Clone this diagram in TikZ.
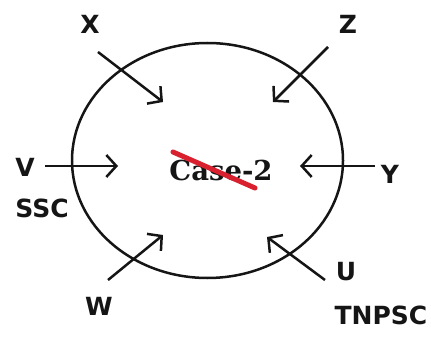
\documentclass[tikz,border=0pt]{standalone}
\usepackage{fontspec}
\setmainfont{DejaVu Sans}
\newfontfamily\casefont{DejaVu Serif}
\usetikzlibrary{arrows.meta,shapes.geometric}
\definecolor{strike}{HTML}{D8202E}
\definecolor{ink}{HTML}{151515}
\tikzset{
  lbl/.style={inner sep=0pt, text=ink, font=\fontsize{25}{25}\selectfont\bfseries},
  arr/.style={draw=ink, line width=2.5pt, -{Straight Barb[length=10pt,width=22pt,line width=2.5pt]}},
}
\begin{document}
\begin{tikzpicture}[x=1pt,y=-1pt]
\useasboundingbox (0,0) rectangle (431,339);
\node[ellipse, draw=ink, line width=2.5pt, minimum width=271pt, minimum height=235pt, inner sep=0pt] (ring) at (207.5,160.5) {};
\node[inner sep=0pt, text=ink, font=\casefont\bfseries\fontsize{27.5}{27.5}\selectfont] (case) at (221,170) {Case-2};
\coordinate (s1) at (173,152);
\coordinate (s2) at (255,188);
\draw[strike, line width=5pt, line cap=round] (s1) -- (s2);
% labels
\node[lbl] (X) at (90,24) {X};
\node[lbl] (Z) at (348,24) {Z};
\node[lbl] (V) at (25,167) {V};
\node[lbl] (Y) at (390,174) {Y};
\node[lbl] (SSC) at (42,208) {SSC};
\node[lbl] (W) at (99,306) {W};
\node[lbl] (U) at (346,272) {U};
\node[lbl] (TNPSC) at (381,315) {TNPSC};
% arrows
\coordinate (xa) at (98,52);   \coordinate (xb) at (163,102);
\coordinate (za) at (328,47);  \coordinate (zb) at (273,102);
\coordinate (va) at (45,166);  \coordinate (vb) at (118,166);
\coordinate (ya) at (375,166); \coordinate (yb) at (300,166);
\coordinate (wa) at (108,280); \coordinate (wb) at (163,235);
\coordinate (ua) at (325,280); \coordinate (ub) at (267,237);
\draw[arr] (xa) -- (xb);
\draw[arr] (za) -- (zb);
\draw[arr] (va) -- (vb);
\draw[arr] (ya) -- (yb);
\draw[arr] (wa) -- (wb);
\draw[arr] (ua) -- (ub);
\end{tikzpicture}
\end{document}
